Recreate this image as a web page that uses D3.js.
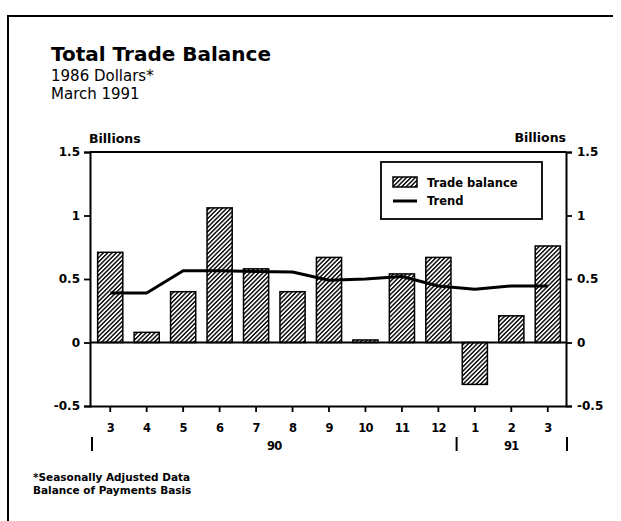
<!DOCTYPE html>
<html>
<head>
<meta charset="utf-8">
<script src="https://cdn.jsdelivr.net/npm/d3@7/dist/d3.min.js"></script>
<style>
  html, body { margin: 0; padding: 0; background: #fff; }
  svg { display: block; }
  text { fill: #000; }
</style>
</head>
<body>
<svg id="chart" width="621" height="521"></svg>
<script>
// ---- Data ----
const months = ["3", "4", "5", "6", "7", "8", "9", "10", "11", "12", "1", "2", "3"];
const tradeBalance = [0.71, 0.08, 0.40, 1.06, 0.58, 0.40, 0.67, 0.02, 0.54, 0.67, -0.33, 0.21, 0.76];
const trend = [0.39, 0.39, 0.565, 0.565, 0.56, 0.555, 0.49, 0.50, 0.52, 0.445, 0.42, 0.445, 0.445];
const yTicks = [-0.5, 0, 0.5, 1, 1.5];
const yTickLabels = ["-0.5", "0", "0.5", "1", "1.5"];
const years = [{ label: "90", from: 4, to: 5 }, { label: "91", from: 11, to: 11 }];
const yearBreaks = [0, 10, 13]; // separators before index

const svg = d3.select("#chart");
const SANS = "'DejaVu Sans', sans-serif";

// Outer frame (top + left)
svg.append("path")
  .attr("d", "M8,521 L8,16 L613,16")
  .attr("fill", "none").attr("stroke", "#000").attr("stroke-width", 2);

// Titles
svg.append("text").attr("x", 51).attr("y", 61)
  .style("font-family", SANS).style("font-weight", "bold").style("font-size", "20px")
  .text("Total Trade Balance");
svg.append("text").attr("x", 51).attr("y", 81)
  .style("font-family", SANS).style("font-size", "15px")
  .text("1986 Dollars*");
svg.append("text").attr("x", 51).attr("y", 99)
  .style("font-family", SANS).style("font-size", "15px")
  .text("March 1991");

// Plot geometry
const plotLeft = 90, plotRight = 566, plotTop = 152, plotBottom = 406;

const x = d3.scaleBand().domain(d3.range(months.length)).range([92, 566]).padding(0);
const y = d3.scaleLinear().domain([-0.5, 1.5]).range([plotBottom, plotTop]);
const barW = x.bandwidth() * 0.69;
const cx = i => x(i) + x.bandwidth() / 2;

// Hatch pattern
const defs = svg.append("defs");
const pat = defs.append("pattern")
  .attr("id", "hatch").attr("patternUnits", "userSpaceOnUse")
  .attr("width", 3.1).attr("height", 3.1)
  .attr("patternTransform", "rotate(45)");
pat.append("rect").attr("width", 3.1).attr("height", 3.1).attr("fill", "#fff");
pat.append("line").attr("x1", 0.7).attr("y1", 0).attr("x2", 0.7).attr("y2", 3.1)
  .attr("stroke", "#000").attr("stroke-width", 1.4);

// Bars
svg.append("g").selectAll("rect").data(tradeBalance).join("rect")
  .attr("x", (d, i) => cx(i) - barW / 2)
  .attr("width", barW)
  .attr("y", d => Math.min(y(d), y(0)))
  .attr("height", d => Math.max(1, Math.abs(y(d) - y(0))))
  .attr("fill", "url(#hatch)")
  .attr("stroke", "#000").attr("stroke-width", 1.5);

// Zero line
svg.append("line").attr("x1", plotLeft).attr("x2", plotRight).attr("y1", y(0)).attr("y2", y(0))
  .attr("stroke", "#000").attr("stroke-width", 2);

// Trend line
const trendLine = d3.line().x((d, i) => cx(i)).y(d => y(d));
svg.append("path").datum(trend).attr("d", trendLine)
  .attr("fill", "none").attr("stroke", "#000").attr("stroke-width", 3).attr("stroke-linejoin", "round");

// Frame top
svg.append("line").attr("x1", plotLeft).attr("x2", plotRight).attr("y1", plotTop).attr("y2", plotTop)
  .attr("stroke", "#000").attr("stroke-width", 2);

// Axes
const fmt = (d) => yTickLabels[yTicks.indexOf(d)];
const yl = svg.append("g").attr("transform", `translate(${plotLeft},0)`)
  .call(d3.axisLeft(y).tickValues(yTicks).tickFormat(fmt).tickSize(6).tickPadding(4));
const yr = svg.append("g").attr("transform", `translate(${plotRight},0)`)
  .call(d3.axisRight(y).tickValues(yTicks).tickFormat(fmt).tickSize(6).tickPadding(5));
const xa = svg.append("g").attr("transform", `translate(0,${plotBottom})`)
  .call(d3.axisBottom(x).tickFormat(i => months[i]).tickSize(6).tickPadding(12));
xa.select(".domain").attr("d", `M${plotLeft},0.5H${plotRight}`);

[yl, yr, xa].forEach(g => {
  g.select(".domain").attr("stroke", "#000").attr("stroke-width", 2);
  g.selectAll(".tick line").attr("stroke", "#000").attr("stroke-width", 1.8);
  g.selectAll(".tick text").attr("fill", "#000")
    .style("font-family", SANS).style("font-weight", "bold").style("font-size", "12px");
});
xa.selectAll(".tick text").style("font-size", "11.5px").style("letter-spacing", "-0.8px");

// Axis titles
svg.append("text").attr("x", plotLeft - 1).attr("y", 143)
  .style("font-family", SANS).style("font-weight", "bold").style("font-size", "12.5px")
  .text("Billions");
svg.append("text").attr("x", plotRight).attr("y", 142).attr("text-anchor", "end")
  .style("font-family", SANS).style("font-weight", "bold").style("font-size", "12.5px")
  .text("Billions");

// Year separators and labels
yearBreaks.forEach(b => {
  const xs = b === 0 ? 92 : (b >= months.length ? 567 : (cx(b - 1) + cx(b)) / 2);
  svg.append("line").attr("x1", xs).attr("x2", xs).attr("y1", 437).attr("y2", 451)
    .attr("stroke", "#000").attr("stroke-width", 2);
});
years.forEach(yv => {
  const c = (cx(yv.from) + cx(yv.to)) / 2;
  svg.append("text").attr("x", c).attr("y", 450).attr("text-anchor", "middle")
    .style("font-family", SANS).style("font-weight", "bold").style("font-size", "11.5px")
    .style("letter-spacing", "-0.8px")
    .text(yv.label);
});

// Legend
const lg = svg.append("g");
lg.append("rect").attr("x", 381).attr("y", 162).attr("width", 161).attr("height", 57)
  .attr("fill", "#fff").attr("stroke", "#000").attr("stroke-width", 1.8);
lg.append("rect").attr("x", 393).attr("y", 177).attr("width", 24).attr("height", 10)
  .attr("fill", "url(#hatch)").attr("stroke", "#000").attr("stroke-width", 1.5);
lg.append("text").attr("x", 427).attr("y", 187)
  .style("font-family", SANS).style("font-weight", "bold").style("font-size", "11.5px")
  .text("Trade balance");
lg.append("line").attr("x1", 393).attr("x2", 417).attr("y1", 201).attr("y2", 201)
  .attr("stroke", "#000").attr("stroke-width", 3);
lg.append("text").attr("x", 427).attr("y", 205)
  .style("font-family", SANS).style("font-weight", "bold").style("font-size", "11.5px")
  .text("Trend");

// Footnotes
svg.append("text").attr("x", 33).attr("y", 481)
  .style("font-family", SANS).style("font-weight", "bold").style("font-size", "10.5px")
  .text("*Seasonally Adjusted Data");
svg.append("text").attr("x", 33).attr("y", 494)
  .style("font-family", SANS).style("font-weight", "bold").style("font-size", "10.5px")
  .text("Balance of Payments Basis");
</script>
</body>
</html>
